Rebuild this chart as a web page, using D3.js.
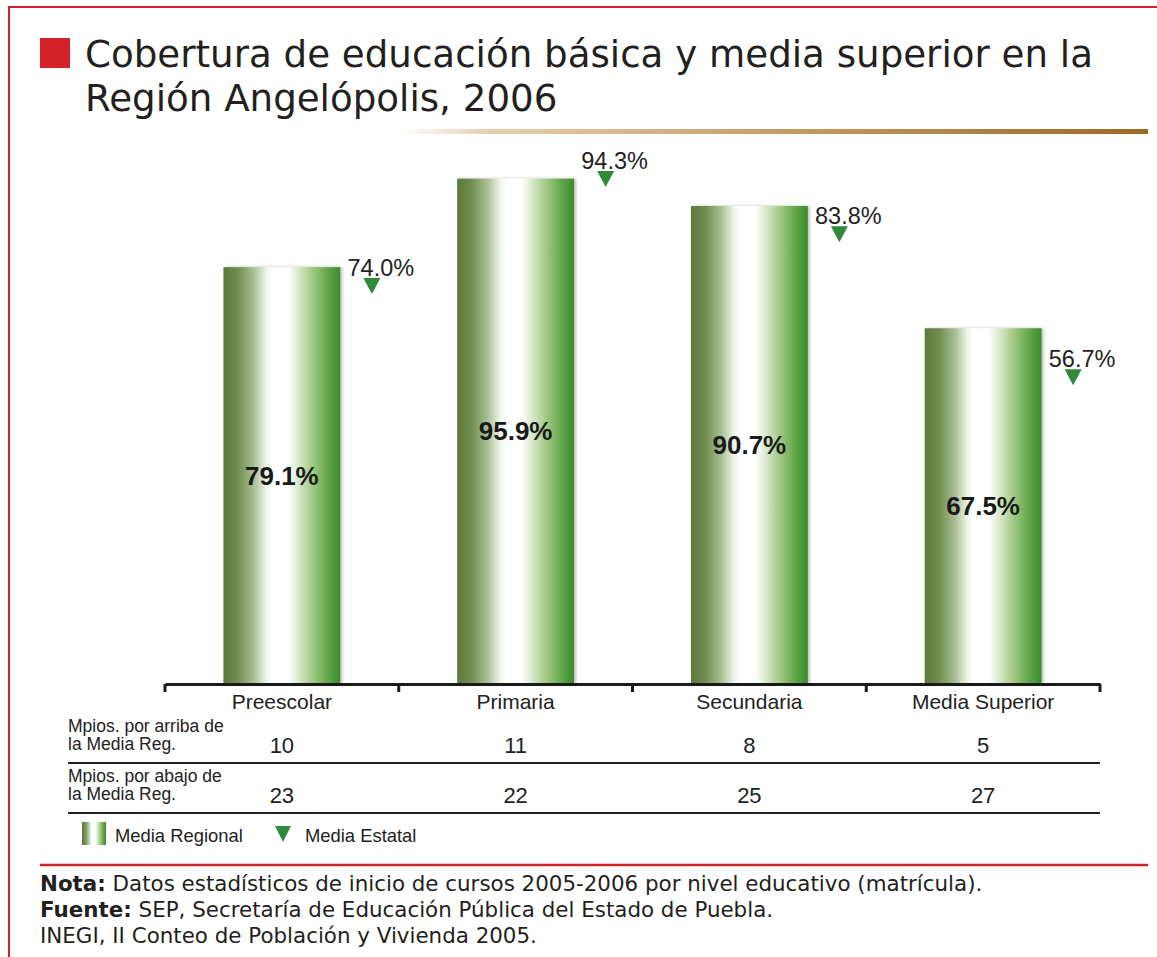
<!DOCTYPE html>
<html>
<head>
<meta charset="utf-8">
<script src="https://cdn.jsdelivr.net/npm/d3@7"></script>
<style>
  body { margin: 0; background: #fff; }
  svg { display: block; }
</style>
</head>
<body>
<svg id="chart" width="1157" height="957"></svg>
<script>
// Cobertura por nivel educativo, Región Angelópolis 2006
const categories = ["Preescolar", "Primaria", "Secundaria", "Media Superior"];
const mediaRegional = [79.1, 95.9, 90.7, 67.5];
const mediaEstatal = [74.0, 94.3, 83.8, 56.7];
const arribaMedia = [10, 11, 8, 5];
const abajoMedia = [23, 22, 25, 27];
const rowLabels = [["Mpios. por arriba de", "la Media Reg."], ["Mpios. por abajo de", "la Media Reg."]];
const legendLabels = ["Media Regional", "Media Estatal"];
const titleLines = ["Cobertura de educación básica y media superior en la", "Región Angelópolis, 2006"];
const notes = [
  ["Nota:", " Datos estadísticos de inicio de cursos 2005-2006 por nivel educativo (matrícula)."],
  ["Fuente:", " SEP, Secretaría de Educación Pública del Estado de Puebla."],
  ["", "INEGI, II Conteo de Población y Vivienda 2005."]
];

const svg = d3.select("#chart");
const RED = "#d3222a";
const GREEN = "#2f8a3a";
const sans = "'Liberation Sans', Arial, sans-serif";
const verd = "'DejaVu Sans', Verdana, sans-serif";

const defs = svg.append("defs");
const grad = defs.append("linearGradient").attr("id", "barGrad")
  .attr("x1", "0%").attr("x2", "100%").attr("y1", "0%").attr("y2", "0%");
[
  [0, "#5b7a3a"], [0.12, "#6f8d4f"], [0.26, "#a9bf93"], [0.37, "#f0f5ec"],
  [0.42, "#ffffff"], [0.55, "#ffffff"], [0.62, "#e2eed8"], [0.75, "#a7cc8a"],
  [0.90, "#5fa446"], [1, "#3a8a2f"]
].forEach(([o, c]) => grad.append("stop").attr("offset", o).attr("stop-color", c));

const gold = defs.append("linearGradient").attr("id", "goldGrad")
  .attr("x1", "0%").attr("x2", "100%");
gold.append("stop").attr("offset", 0).attr("stop-color", "#ffffff");
gold.append("stop").attr("offset", 0.12).attr("stop-color", "#e6cfae");
gold.append("stop").attr("offset", 0.5).attr("stop-color", "#c59d66");
gold.append("stop").attr("offset", 1).attr("stop-color", "#9c6a22");

const shadow = defs.append("filter").attr("id", "barShadow")
  .attr("x", "-10%").attr("y", "-5%").attr("width", "125%").attr("height", "115%");
shadow.append("feDropShadow").attr("dx", 2).attr("dy", 0).attr("stdDeviation", 1.5)
  .attr("flood-color", "#000").attr("flood-opacity", 0.25);

// Frame
svg.append("line").attr("x1", 9).attr("x2", 1157).attr("y1", 7).attr("y2", 7)
  .attr("stroke", RED).attr("stroke-width", 2);
svg.append("line").attr("x1", 9).attr("x2", 9).attr("y1", 6).attr("y2", 957)
  .attr("stroke", RED).attr("stroke-width", 2);

// Title
svg.append("rect").attr("x", 40).attr("y", 38).attr("width", 30).attr("height", 30).attr("fill", RED);
svg.selectAll("text.title").data(titleLines).join("text")
  .attr("class", "title")
  .attr("x", 85).attr("y", (d, i) => 67 + i * 44)
  .attr("font-family", verd).attr("font-size", 37.2).attr("fill", "#231f20")
  .text(d => d);
svg.append("rect").attr("x", 400).attr("y", 129).attr("width", 748).attr("height", 5)
  .attr("fill", "url(#goldGrad)");

// Scales
const x = d3.scaleBand().domain(categories).range([165, 1100]).paddingInner(0.5).paddingOuter(0.25);
const y = d3.scaleLinear().domain([0, 100]).range([684, 157]);

// Bars
const bars = svg.append("g");
bars.selectAll("rect").data(categories).join("rect")
  .attr("x", d => x(d)).attr("width", x.bandwidth())
  .attr("y", (d, i) => y(mediaRegional[i]))
  .attr("height", (d, i) => y(0) - y(mediaRegional[i]))
  .attr("fill", "url(#barGrad)").attr("filter", "url(#barShadow)");

bars.selectAll("text").data(categories).join("text")
  .attr("x", d => x(d) + x.bandwidth() / 2)
  .attr("y", (d, i) => (y(mediaRegional[i]) + y(0)) / 2)
  .attr("dy", "0.35em").attr("text-anchor", "middle")
  .attr("font-family", sans).attr("font-weight", "bold").attr("font-size", 26).attr("fill", "#1a1a1a")
  .text((d, i) => mediaRegional[i].toFixed(1) + "%");

// State-average markers
const triX = d => x(d) + x.bandwidth() / 2 + 90;
const tri = svg.append("g");
tri.selectAll("path").data(categories).join("path")
  .attr("transform", (d, i) => `translate(${triX(d)},${y(mediaEstatal[i])})`)
  .attr("d", "M-8.5,-16 L8.5,-16 L0,0 Z").attr("fill", GREEN);
tri.selectAll("text").data(categories).join("text")
  .attr("x", d => triX(d) + 9)
  .attr("y", (d, i) => y(mediaEstatal[i]) - 18)
  .attr("text-anchor", "middle")
  .attr("font-family", sans).attr("font-size", 23.5).attr("fill", "#222")
  .text((d, i) => mediaEstatal[i].toFixed(1) + "%");

// Category axis
const axis = d3.axisBottom(x).tickSize(0).tickPadding(10);
const gx = svg.append("g").attr("transform", "translate(0,684)").call(axis);
gx.select(".domain").attr("stroke", "#1a1a1a").attr("stroke-width", 3);
gx.selectAll(".tick text").attr("font-family", sans).attr("font-size", 21).attr("fill", "#222");
const bounds = [x.range()[0]].concat(categories.map(c => x(c) + x.step() * 0.75));
gx.selectAll("line.sep").data(bounds).join("line").attr("class", "sep")
  .attr("x1", d => d).attr("x2", d => d).attr("y1", 0).attr("y2", 8)
  .attr("stroke", "#1a1a1a").attr("stroke-width", 3);

// Table rows
const rows = [arribaMedia, abajoMedia];
rows.forEach((vals, r) => {
  const base = 753 + r * 50;
  svg.append("g").selectAll("text").data(rowLabels[r]).join("text")
    .attr("x", 68).attr("y", (d, i) => base - 21 + i * 18)
    .attr("font-family", sans).attr("font-size", 17.5).attr("fill", "#222")
    .text(d => d);
  svg.append("g").selectAll("text").data(categories).join("text")
    .attr("x", d => x(d) + x.bandwidth() / 2)
    .attr("y", base)
    .attr("text-anchor", "middle")
    .attr("font-family", sans).attr("font-size", 22).attr("fill", "#222")
    .text((d, i) => vals[i]);
  svg.append("line").attr("x1", 68).attr("x2", 1100).attr("y1", base + 10).attr("y2", base + 10)
    .attr("stroke", "#222").attr("stroke-width", 2);
});

// Legend
svg.append("rect").attr("x", 82).attr("y", 822).attr("width", 24).attr("height", 23)
  .attr("fill", "url(#barGrad)");
svg.append("text").attr("x", 115).attr("y", 842)
  .attr("font-family", sans).attr("font-size", 18.4).attr("fill", "#222").text(legendLabels[0]);
svg.append("path").attr("transform", "translate(283,842)")
  .attr("d", "M-8,-16 L8,-16 L0,0 Z").attr("fill", GREEN);
svg.append("text").attr("x", 305).attr("y", 842)
  .attr("font-family", sans).attr("font-size", 18.4).attr("fill", "#222").text(legendLabels[1]);

// Footer
svg.append("line").attr("x1", 40).attr("x2", 1148).attr("y1", 865).attr("y2", 865)
  .attr("stroke", RED).attr("stroke-width", 2.5);
notes.forEach(([b, rest], i) => {
  const t = svg.append("text").attr("x", 40).attr("y", 891 + i * 26)
    .attr("font-family", "'DejaVu Sans', Verdana, sans-serif")
    .attr("font-size", 21.4).attr("fill", "#231f20");
  if (b) t.append("tspan").attr("font-weight", "bold").text(b);
  t.append("tspan").text(rest);
});
</script>
</body>
</html>
